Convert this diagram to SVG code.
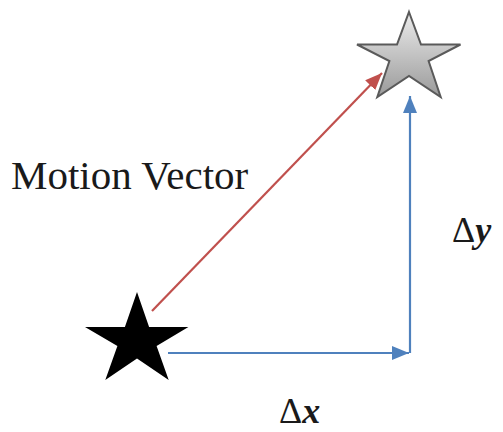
<svg xmlns="http://www.w3.org/2000/svg" width="503" height="432" viewBox="0 0 503 432">
<style>
.lbl{font-family:"Liberation Serif","Times New Roman",serif;fill:#1a1a1a}
.var{font-weight:bold;font-style:italic}
.red{stroke:#c0504d;stroke-width:2.2;fill:none}
.blue{stroke:#4f81bd;stroke-width:2.2;fill:none}
</style>
<defs>
<marker id="ar" markerUnits="userSpaceOnUse" markerWidth="18" markerHeight="16" refX="17" refY="8" orient="auto"><path d="M0,1 L17,8 L0,15 Z" fill="#c0504d"/></marker>
<marker id="ab" markerUnits="userSpaceOnUse" markerWidth="18" markerHeight="16" refX="17" refY="8" orient="auto"><path d="M0,1 L17,8 L0,15 Z" fill="#4f81bd"/></marker>
<linearGradient id="gs" x1="0" y1="0" x2="0" y2="1">
<stop offset="0" stop-color="#ececec"/>
<stop offset="1" stop-color="#9a9a9a"/>
</linearGradient>
</defs>
<rect width="503" height="432" fill="#ffffff"/>
<g id="connectors">
<line class="red" x1="152" y1="311" x2="382" y2="73" marker-end="url(#ar)"/>
<line class="blue" x1="168" y1="353" x2="409" y2="353" marker-end="url(#ab)"/>
<line class="blue" x1="410" y1="353" x2="410" y2="96" marker-end="url(#ab)"/>
</g>
<g id="start">
<polygon points="137,292 149.1,327 188.4,327 156.6,346 168.7,380 137,358.5 105.3,380 117.4,346 85,327 124.9,327" fill="#000"/>
</g>
<g id="end">
<polygon points="409,12 421,44.5 460.5,44.5 428.6,61 440.7,97 409,76 377.3,97 389.4,61 357,44.5 397,44.5" fill="url(#gs)" stroke="#5a5a5a" stroke-width="2" stroke-linejoin="miter"/>
</g>
<g id="labels">
<text class="lbl" x="11" y="189" font-size="41">Motion Vector</text>
<text class="lbl" x="279" y="423" font-size="36">Δ<tspan class="var">x</tspan></text>
<text class="lbl" x="452" y="242" font-size="36">Δ<tspan class="var">y</tspan></text>
</g>
</svg>
